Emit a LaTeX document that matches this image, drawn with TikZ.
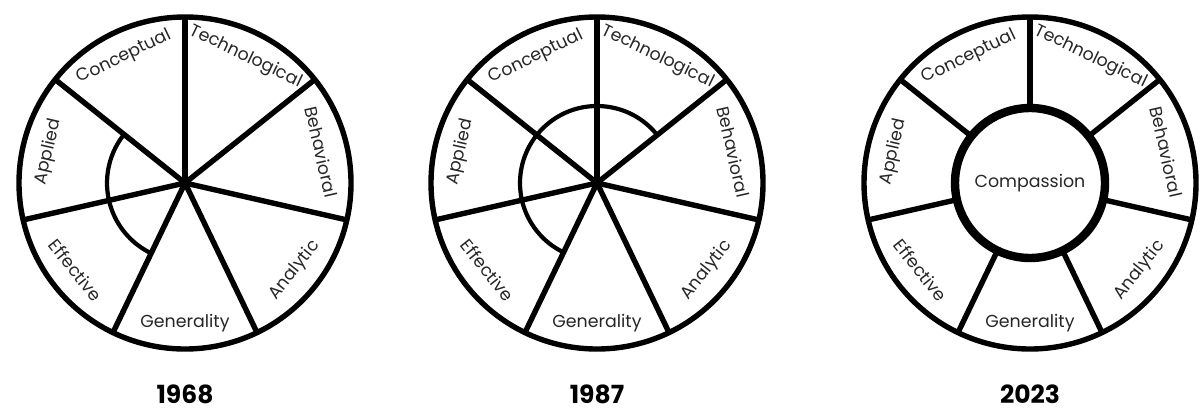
\documentclass[tikz,border=0pt]{standalone}
\usepackage{fontspec}
\setmainfont{Poppins}
\tikzset{
  rim/.style={line width=2.7pt},
  inner arc/.style={line width=2.1pt},
  hub/.style={line width=4.2pt},
  sector label/.style={font=\fontsize{8.7}{10}\selectfont, text=black!85, inner sep=0pt},
  year label/.style={font=\fontsize{12.5}{14}\selectfont\bfseries, inner sep=0pt},
}

\begin{document}
\begin{tikzpicture}[x=0.5pt,y=0.5pt]
        \useasboundingbox (0,0) rectangle (1203,409);

        % Define wheel centres
        \coordinate (W1) at (185,226);
        \coordinate (W2) at (597,226);
        \coordinate (W3) at (1030,226);

        % Draw rims and spokes
        \foreach \w in {1,2,3}
          \draw[rim] (W\w) circle (166);
        \foreach \w in {1,2}
          \foreach \k in {0,...,6}
            \draw[rim] (W\w) -- ++({90-360/7*\k}:166);
        \foreach \k in {0,...,6}
          \draw[rim] (W3) ++({90-360/7*\k}:75) -- ++({90-360/7*\k}:91);

        % Draw inner arcs and hub
        \draw[inner arc] (W1) ++(141.43:78) arc[start angle=141.43, end angle=244.29, radius=78];
        \draw[inner arc] (W2) ++(38.57:77) arc[start angle=38.57, end angle=244.29, radius=77];
        \draw[hub] (W3) circle (75);
        \node[sector label] (hub) at (W3) {Compassion};

        % Sector labels
        \foreach \w in {1,2,3}
          \foreach \txt [count=\k from 0] in {Technological,Behavioral,Analytic,Generality,Effective,Applied,Conceptual}{
            \pgfmathsetmacro\a{90-360/7*(\k+0.5)}
            \pgfmathsetmacro\r{sin(\a)>0 ? \a-90 : \a+90}
            \path (W\w) ++(\a:140) node[sector label, rotate=\r] (L\w-\k) {\txt};
          }

        % Years
        \node[year label] (Y1) at (185,15) {1968};
        \node[year label] (Y2) at (597,15) {1987};
        \node[year label] (Y3) at (1030,15) {2023};

\end{tikzpicture}
\end{document}
